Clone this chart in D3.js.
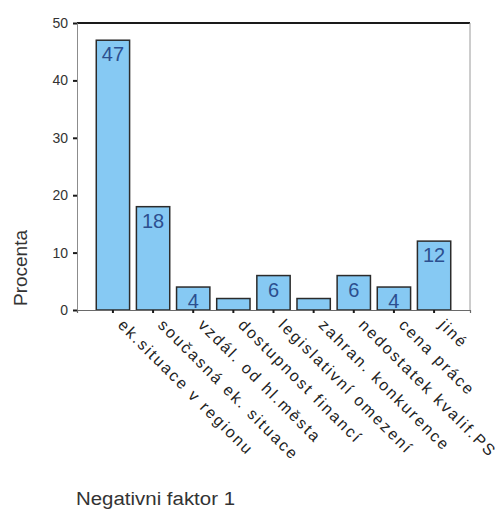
<!DOCTYPE html>
<html>
<head>
<meta charset="utf-8">
<script src="https://cdn.jsdelivr.net/npm/d3@7"></script>
<style>
  html, body { margin: 0; padding: 0; background: #fff; }
  svg { display: block; }
  text { font-family: "Liberation Sans", Arial, sans-serif; }
</style>
</head>
<body>
<svg id="chart" width="503" height="509"></svg>
<script>
const categories = [
  "ek.situace v regionu",
  "současná ek. situace",
  "vzdál. od hl.města",
  "dostupnost financí",
  "legislativní omezení",
  "zahran. konkurence",
  "nedostatek kvalif.PS",
  "cena práce",
  "jiné"
];
const values = [47, 18, 4, 2, 6, 2, 6, 4, 12];
const yTicks = [0, 10, 20, 30, 40, 50];
const yTitle = "Procenta";
const xTitle = "Negativni faktor 1";

(function () {
const svg = d3.select("#chart");
const pLeft = 77, pRight = 470, pTop = 23, pBottom = 310;

const x = d3.scaleBand().domain(categories).range([pLeft, pRight])
  .paddingInner(0.17).paddingOuter(0.48);
const y = d3.scaleLinear().domain([0, 50]).range([pBottom, pTop]);

// frame
svg.append("line").attr("x1", pLeft).attr("x2", pRight).attr("y1", pTop).attr("y2", pTop)
  .attr("stroke", "#1a1a1a").attr("stroke-width", 2);
svg.append("line").attr("x1", pRight).attr("x2", pRight).attr("y1", pTop).attr("y2", pBottom)
  .attr("stroke", "#9a9a9a").attr("stroke-width", 1);

const rows = values.map((v, i) => ({ v, c: categories[i] }));

// bars
svg.append("g").selectAll("rect").data(rows).join("rect")
  .attr("x", d => x(d.c))
  .attr("y", d => y(d.v))
  .attr("width", x.bandwidth())
  .attr("height", d => y(0) - y(d.v))
  .attr("fill", "#86c9f3")
  .attr("stroke", "#2b2b2b")
  .attr("stroke-width", 1.5);

// bar value labels
svg.append("g").selectAll("text")
  .data(rows.filter(d => d.v > 3))
  .join("text")
  .attr("x", d => x(d.c) + x.bandwidth() / 2)
  .attr("y", d => y(d.v) + 21)
  .attr("text-anchor", "middle")
  .attr("font-size", 20)
  .attr("fill", "#2c4f8f")
  .text(d => d.v);

// y axis
const yAxis = svg.append("g").attr("transform", `translate(${pLeft},0)`)
  .call(d3.axisLeft(y).tickValues(yTicks).tickSize(4).tickPadding(5).tickFormat(d3.format("d")));
yAxis.select(".domain").attr("stroke", "#8c8c8c").attr("stroke-width", 1);
yAxis.selectAll(".tick line").attr("stroke", "#1a1a1a").attr("stroke-width", 2);
yAxis.selectAll(".tick text").attr("font-size", 14).attr("fill", "#333")
  .attr("font-family", "Liberation Sans, Arial, sans-serif");

// x axis
const xAxis = svg.append("g").attr("transform", `translate(0,${pBottom})`)
  .call(d3.axisBottom(x).tickSize(3).tickFormat(""));
xAxis.select(".domain").attr("stroke", "#6a6a6a").attr("stroke-width", 1.2);
xAxis.selectAll(".tick line").attr("stroke", "#1a1a1a").attr("stroke-width", 2);

// rotated category labels
svg.append("g").selectAll("text").data(categories).join("text")
  .attr("transform", d => `translate(${x(d) + x.bandwidth() / 2 + 4},326) rotate(45)`)
  .attr("text-anchor", "start")
  .attr("font-size", 16)
  .attr("letter-spacing", 2.1)
  .attr("fill", "#222")
  .text(d => d);

// axis titles
svg.append("text")
  .attr("transform", "translate(27,268) rotate(-90)")
  .attr("text-anchor", "middle")
  .attr("font-size", 19)
  .attr("fill", "#333")
  .text(yTitle);

svg.append("text")
  .attr("x", 76).attr("y", 505)
  .attr("font-size", 18)
  .attr("fill", "#333")
  .attr("textLength", 159)
  .attr("lengthAdjust", "spacingAndGlyphs")
  .text(xTitle);
})();
</script>
</body>
</html>
